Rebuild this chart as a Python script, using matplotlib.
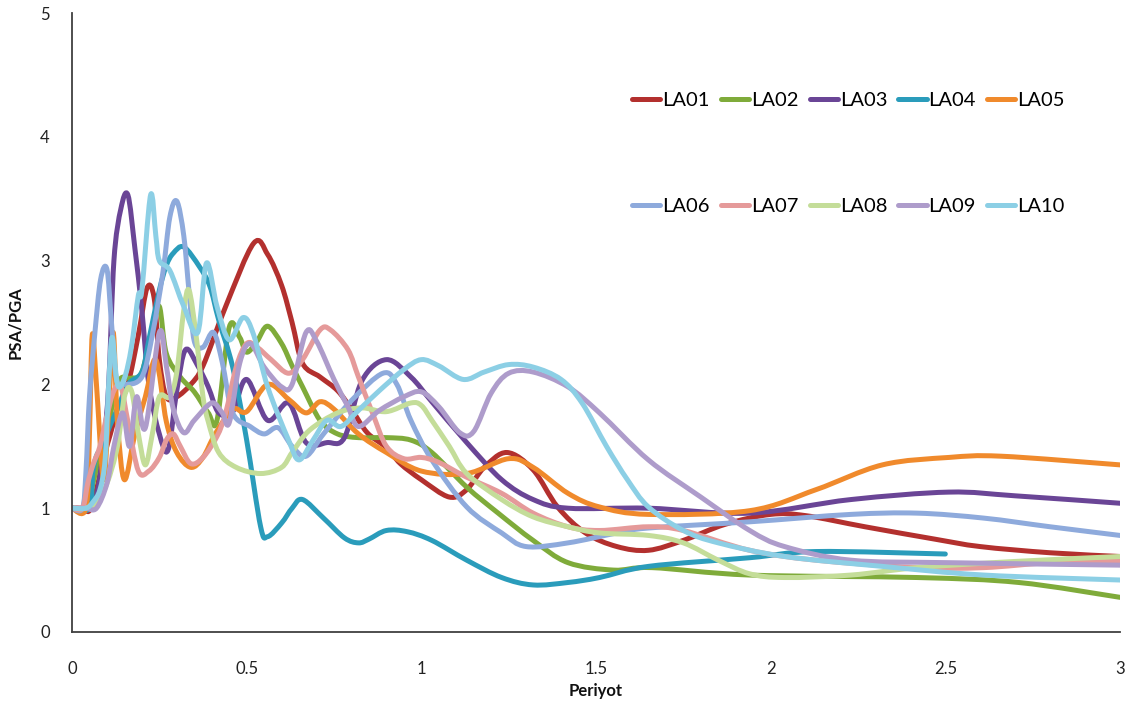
import numpy as np
import matplotlib
matplotlib.use("Agg")
import matplotlib.pyplot as plt
from matplotlib.path import Path
from matplotlib.patches import PathPatch
from matplotlib.lines import Line2D

plt.rcParams['font.family'] = ['Lato', 'DejaVu Sans']

# Spectral acceleration ratios (PSA/PGA) against period for ten records
LA01_x = [0, 0.03, 0.05, 0.07, 0.09, 0.11, 0.13, 0.16, 0.19, 0.215, 0.235, 0.25, 0.27, 0.3, 0.34, 0.375,
          0.44, 0.52, 0.56, 0.6, 0.63, 0.66, 0.71, 0.76, 0.8, 0.845, 0.9, 0.94, 1.0, 1.08, 1.13, 1.18,
          1.245, 1.32, 1.39, 1.47, 1.56, 1.65, 1.75, 1.87, 2.0, 2.1, 2.27, 2.47, 2.6, 2.8, 3.0]
LA01_y = [1, 1.0, 0.98, 1.15, 1.4, 1.6, 1.8, 2.0, 2.4, 2.78, 2.7, 2.2, 1.9, 1.9, 2.0, 2.15,
          2.63, 3.14, 3.05, 2.8, 2.5, 2.17, 2.06, 1.95, 1.8, 1.61, 1.49, 1.36, 1.23, 1.09, 1.15, 1.33,
          1.45, 1.31, 1.01, 0.8, 0.69, 0.66, 0.74, 0.87, 0.95, 0.94, 0.85, 0.75, 0.69, 0.64, 0.61]

LA02_x = [0, 0.04, 0.06, 0.08, 0.1, 0.12, 0.14, 0.17, 0.2, 0.23, 0.25, 0.27, 0.31, 0.35, 0.39, 0.415,
          0.45, 0.48, 0.5, 0.53, 0.56, 0.6, 0.63, 0.66, 0.71, 0.76, 0.82, 0.9, 0.97, 1.03, 1.13, 1.22,
          1.32, 1.42, 1.55, 1.66, 1.94, 2.42, 2.71, 3.0]
LA02_y = [1, 1.0, 1.2, 1.45, 1.6, 1.9, 2.05, 2.05, 2.1, 2.45, 2.63, 2.25, 2.06, 1.94, 1.77, 1.71,
          2.46, 2.38, 2.26, 2.35, 2.47, 2.33, 2.15, 1.98, 1.71, 1.6, 1.57, 1.57, 1.55, 1.45, 1.17, 0.96,
          0.74, 0.56, 0.5, 0.52, 0.46, 0.44, 0.4, 0.28]

LA03_x = [0, 0.04, 0.07, 0.09, 0.105, 0.12, 0.14, 0.16, 0.18, 0.2, 0.22, 0.25, 0.275, 0.3, 0.325,
          0.36, 0.39, 0.42, 0.46, 0.5, 0.56, 0.62, 0.67, 0.73, 0.78, 0.83, 0.9, 0.97, 1.03, 1.13, 1.23,
          1.32, 1.42, 1.65, 1.94, 2.23, 2.51, 2.7, 3.0]
LA03_y = [1, 1.0, 1.1, 1.5, 2.0, 3.0, 3.42, 3.53, 3.1, 2.6, 2.0, 1.6, 1.47, 1.95, 2.28,
          2.15, 1.98, 1.77, 1.78, 2.04, 1.71, 1.85, 1.53, 1.53, 1.57, 2.03, 2.2, 2.06, 1.86, 1.53, 1.23,
          1.07, 1.0, 1.0, 0.96, 1.07, 1.13, 1.1, 1.04]

LA04_x = [0, 0.05, 0.06, 0.075, 0.09, 0.1, 0.13, 0.16, 0.2, 0.22, 0.25, 0.27, 0.29, 0.32, 0.365,
          0.395, 0.42, 0.46, 0.5, 0.54, 0.56, 0.6, 0.63, 0.66, 0.72, 0.78, 0.82, 0.85, 0.9, 0.96, 1.03,
          1.13, 1.23, 1.32, 1.42, 1.51, 1.65, 1.94, 2.13, 2.5]
LA04_y = [1, 1.0, 1.3, 1.45, 1.4, 1.6, 1.8, 2.0, 2.1, 2.36, 2.76, 2.96, 3.06, 3.11, 2.95,
          2.79, 2.52, 2.14, 1.55, 0.85, 0.77, 0.88, 1.0, 1.07, 0.92, 0.76, 0.72, 0.75, 0.82, 0.81, 0.74,
          0.58, 0.44, 0.38, 0.4, 0.44, 0.53, 0.6, 0.65, 0.63]

LA05_x = [0, 0.04, 0.05, 0.058, 0.07, 0.09, 0.105, 0.118, 0.13, 0.15, 0.18, 0.21, 0.24, 0.27, 0.3,
          0.34, 0.375, 0.41, 0.46, 0.5, 0.56, 0.62, 0.67, 0.71, 0.75, 0.82, 0.9, 1.0, 1.13, 1.25, 1.32,
          1.42, 1.51, 1.65, 1.94, 2.13, 2.32, 2.51, 2.66, 3.0]
LA05_y = [1, 1.0, 1.6, 2.4, 2.0, 1.23, 1.8, 2.42, 1.7, 1.23, 1.6, 1.9, 2.2, 1.7, 1.45,
          1.33, 1.41, 1.6, 1.8, 1.78, 2.0, 1.88, 1.77, 1.86, 1.8, 1.6, 1.45, 1.3, 1.28, 1.4, 1.33,
          1.12, 1.01, 0.95, 0.98, 1.15, 1.35, 1.41, 1.42, 1.35]

LA06_x = [0, 0.03, 0.04, 0.05, 0.065, 0.082, 0.1, 0.113, 0.127, 0.15, 0.2, 0.23, 0.26, 0.28, 0.3,
          0.32, 0.335, 0.35, 0.375, 0.405, 0.43, 0.46, 0.51, 0.55, 0.59, 0.63, 0.67, 0.72, 0.8, 0.89,
          0.93, 0.97, 1.03, 1.13, 1.23, 1.3, 1.42, 1.56, 1.65, 1.94, 2.23, 2.42, 2.61, 2.8, 3.0]
LA06_y = [1, 1.0, 1.3, 1.9, 2.4, 2.85, 2.93, 2.5, 2.05, 2.0, 2.06, 2.4, 2.9, 3.35, 3.48,
          3.2, 2.75, 2.35, 2.3, 2.42, 2.18, 1.77, 1.66, 1.6, 1.65, 1.5, 1.42, 1.6, 1.87, 2.09,
          2.0, 1.71, 1.39, 1.01, 0.8, 0.69, 0.72, 0.8, 0.84, 0.89, 0.95, 0.96, 0.92, 0.85, 0.78]

LA07_x = [0, 0.03, 0.045, 0.06, 0.08, 0.1, 0.12, 0.14, 0.16, 0.19, 0.22, 0.25, 0.27, 0.29, 0.31,
          0.34, 0.375, 0.415, 0.44, 0.47, 0.5, 0.53, 0.57, 0.62, 0.66, 0.71, 0.74, 0.79, 0.82, 0.86,
          0.9, 0.95, 1.0, 1.05, 1.13, 1.23, 1.32, 1.42, 1.51, 1.65, 1.75, 1.94, 2.13, 2.42, 2.61,
          2.8, 3.0]
LA07_y = [1, 1.0, 1.2, 1.35, 1.5, 1.75, 1.95, 1.98, 1.7, 1.3, 1.3, 1.41, 1.55, 1.6, 1.5,
          1.36, 1.41, 1.58, 1.77, 2.14, 2.33, 2.3, 2.2, 2.09, 2.2, 2.44, 2.44, 2.28, 2.06, 1.77,
          1.5, 1.4, 1.41, 1.37, 1.25, 1.12, 0.96, 0.85, 0.82, 0.85, 0.82, 0.66, 0.58, 0.52, 0.52,
          0.56, 0.57]

LA08_x = [0, 0.04, 0.07, 0.1, 0.13, 0.15, 0.17, 0.19, 0.21, 0.23, 0.25, 0.28, 0.3, 0.32, 0.335,
          0.355, 0.375, 0.39, 0.42, 0.47, 0.54, 0.6, 0.63, 0.68, 0.76, 0.83, 0.9, 0.97, 1.0, 1.03,
          1.08, 1.13, 1.23, 1.32, 1.42, 1.51, 1.65, 1.75, 1.85, 1.94, 2.04, 2.23, 2.42, 2.7, 3.0]
LA08_y = [1, 1.0, 1.05, 1.2, 1.5, 1.9, 1.95, 1.6, 1.35, 1.6, 1.9, 1.9, 2.1, 2.6, 2.76,
          2.4, 1.9, 1.7, 1.45, 1.33, 1.28, 1.33, 1.45, 1.63, 1.77, 1.81, 1.78, 1.85, 1.83, 1.71,
          1.5, 1.28, 1.07, 0.93, 0.85, 0.8, 0.78, 0.72, 0.58, 0.47, 0.44, 0.46, 0.52, 0.57, 0.61]

LA09_x = [0, 0.04, 0.07, 0.1, 0.12, 0.145, 0.165, 0.185, 0.21, 0.25, 0.27, 0.29, 0.32, 0.35, 0.4,
          0.43, 0.45, 0.48, 0.51, 0.55, 0.6, 0.63, 0.67, 0.7, 0.75, 0.79, 0.82, 0.88, 0.95, 1.0,
          1.05, 1.11, 1.15, 1.2, 1.25, 1.32, 1.42, 1.51, 1.65, 1.8, 1.94, 2.04, 2.23, 2.51, 3.0]
LA09_y = [1, 1.0, 1.0, 1.2, 1.5, 1.77, 1.5, 1.9, 1.65, 2.42, 2.15, 1.8, 1.61, 1.71, 1.85,
          1.77, 1.69, 2.17, 2.33, 2.14, 1.98, 2.0, 2.42, 2.35, 2.04, 1.82, 1.66, 1.79, 1.9, 1.94,
          1.82, 1.61, 1.62, 1.93, 2.09, 2.1, 1.98, 1.77, 1.39, 1.09, 0.82, 0.69, 0.58, 0.56, 0.54]

LA10_x = [0, 0.04, 0.06, 0.08, 0.095, 0.105, 0.115, 0.13, 0.15, 0.17, 0.19, 0.2, 0.225, 0.24, 0.25,
          0.28, 0.32, 0.36, 0.385, 0.415, 0.45, 0.49, 0.52, 0.56, 0.62, 0.65, 0.69, 0.73, 0.77, 0.82,
          0.88, 0.95, 1.0, 1.05, 1.12, 1.18, 1.25, 1.32, 1.4, 1.46, 1.53, 1.59, 1.65, 1.75, 1.85,
          2.04, 2.32, 2.61, 3.0]
LA10_y = [1, 1.0, 1.05, 1.15, 1.4, 2.0, 2.38, 2.0, 2.05, 2.3, 2.72, 2.76, 3.53, 3.2, 3.0,
          2.92, 2.63, 2.42, 2.98, 2.63, 2.36, 2.54, 2.4, 1.98, 1.55, 1.39, 1.55, 1.71, 1.66, 1.79,
          1.95, 2.12, 2.2, 2.15, 2.04, 2.1, 2.16, 2.14, 2.04, 1.85, 1.5, 1.23, 1.01, 0.82, 0.72,
          0.61, 0.53, 0.46, 0.42]

labels = ['LA01', 'LA02', 'LA03', 'LA04', 'LA05', 'LA06', 'LA07', 'LA08', 'LA09', 'LA10']
series_x = [LA01_x, LA02_x, LA03_x, LA04_x, LA05_x, LA06_x, LA07_x, LA08_x, LA09_x, LA10_x]
series_y = [LA01_y, LA02_y, LA03_y, LA04_y, LA05_y, LA06_y, LA07_y, LA08_y, LA09_y, LA10_y]
colors = ['#b3302e', '#7fab3a', '#6a4596', '#2a9cbb', '#f08a2c',
          '#8eaadc', '#e59a9a', '#c4dd99', '#ae9ccb', '#8ccfe5']

x_ticks = [0, 0.5, 1, 1.5, 2, 2.5, 3]
x_tick_labels = ['0', '0.5', '1', '1.5', '2', '2.5', '3']
y_ticks = [0, 1, 2, 3, 4, 5]


def smooth_path(x, y):
    """Catmull-Rom curve through the points, expressed as cubic Bezier segments."""
    pts = np.column_stack([x, y]).astype(float)
    n = len(pts)
    verts = [pts[0]]
    codes = [Path.MOVETO]
    for i in range(n - 1):
        p0 = pts[i - 1] if i > 0 else pts[i]
        p1 = pts[i]
        p2 = pts[i + 1]
        p3 = pts[i + 2] if i + 2 < n else pts[i + 1]
        c1 = p1 + (p2 - p0) / 6.0
        c2 = p2 - (p3 - p1) / 6.0
        verts += [c1, c2, p2]
        codes += [Path.CURVE4] * 3
    return Path(np.array(verts), codes)


fig = plt.figure(figsize=(11.35, 7.09), dpi=100)
ax = fig.add_axes([72 / 1135, 1 - 632 / 709, (1120 - 72) / 1135, (632 - 13) / 709])

lw = 3.6
handles = []
for xs, ys, c, lab in zip(series_x, series_y, colors, labels):
    patch = PathPatch(smooth_path(xs, ys), facecolor='none', edgecolor=c, lw=lw,
                      capstyle='round', joinstyle='round')
    ax.add_patch(patch)
    handles.append(Line2D([], [], color=c, lw=lw, solid_capstyle='round', label=lab))

ax.set_xlim(0, 3)
ax.set_ylim(0, 5)
ax.set_xticks(x_ticks)
ax.set_xticklabels(x_tick_labels)
ax.set_yticks(y_ticks)
ax.tick_params(axis='both', length=0, labelsize=12, colors='#222222')
ax.tick_params(axis='x', pad=21)
ax.tick_params(axis='y', pad=16)
for side in ['top', 'right']:
    ax.spines[side].set_visible(False)
for side in ['left', 'bottom']:
    ax.spines[side].set_color('#404040')
    ax.spines[side].set_linewidth(1.3)

ax.set_xlabel('Periyot', fontsize=12, fontweight='bold', labelpad=4, color='#111111')
ax.set_ylabel('PSA/PGA', fontsize=12, fontweight='bold', labelpad=12, color='#111111')

# Legend laid out in two rows of five (entries ordered column by column)
ncol = 5
order = [r * ncol + c for c in range(ncol) for r in range(2)]
fig.legend(handles=[handles[i] for i in order], loc='upper left',
           bbox_to_anchor=(632 / 1135, 1 - 92 / 709),
           ncol=ncol, frameon=False, fontsize=14.5, handlelength=1.4, handletextpad=0.1,
           columnspacing=0.55, labelspacing=4.4, borderpad=0, borderaxespad=0)

fig.savefig('out.png', dpi=100, facecolor='white')
